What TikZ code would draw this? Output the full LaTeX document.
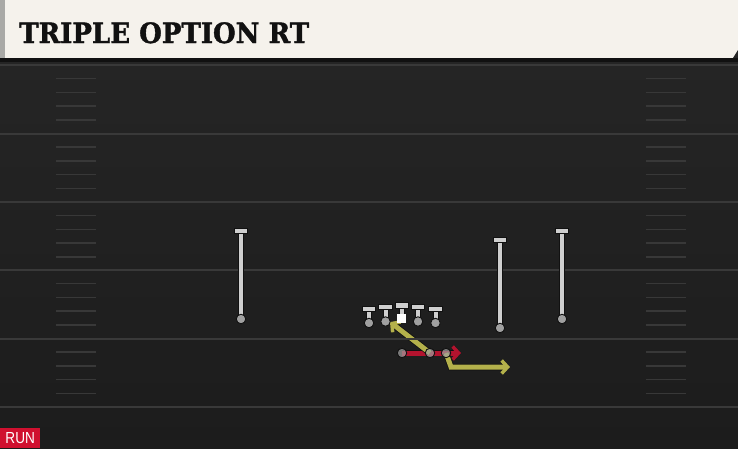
\documentclass[tikz,border=0pt]{standalone}
\usepackage{fontspec}
\setmainfont{DejaVu Serif}
\newfontfamily\titlefont[UprightFont={* Bold}, FakeBold=1.5]{DejaVu Serif}
\newfontfamily\tagfont{Liberation Sans}
\usetikzlibrary{positioning,arrows.meta,backgrounds}

\definecolor{fieldtop}{HTML}{252525}
\definecolor{fieldbot}{HTML}{1C1C1C}
\definecolor{yardclr}{HTML}{393939}
\definecolor{hashclr}{HTML}{383838}
\definecolor{headclr}{HTML}{F5F2EC}
\definecolor{edgeclr}{HTML}{A9A9A6}
\definecolor{playerclr}{HTML}{CFCFCF}
\definecolor{spotclr}{HTML}{A0A0A0}
\definecolor{outlineclr}{HTML}{111111}
\definecolor{runclr}{HTML}{B3132E}
\definecolor{optclr}{HTML}{B4B14B}
\definecolor{tagclr}{HTML}{D0102F}

\begin{document}
\begin{tikzpicture}[x=1pt, y=-1pt,
  yardline/.style={draw=yardclr, line width=2pt},
  hash/.style={draw=hashclr, line width=1.5pt},
  stem/.style={draw=playerclr, line width=4pt,
    preaction={draw=outlineclr, line width=6pt}},
  tbar/.style={rectangle, draw=outlineclr, fill=playerclr, line width=0.9pt,
    minimum width=13.5pt, minimum height=5.5pt, inner sep=0pt},
  spot/.style={circle, draw=outlineclr, fill=spotclr, line width=0.9pt,
    minimum size=9.5pt, inner sep=0pt},
  back/.style={spot, fill opacity=0.7},
  ball/.style={rectangle, fill=white, minimum size=9pt, inner sep=0pt},
  route/.style={line width=5pt,
    -{Straight Barb[length=6pt, width=13pt, line width=3.5pt]},
    preaction={draw=outlineclr, line width=6.5pt}},
]

\useasboundingbox (0,0) rectangle (738,448);

% field
\begin{scope}[on background layer]
  \shade[top color=fieldtop, bottom color=fieldbot] (0,58) rectangle (738,448);
\end{scope}

% yard lines and hashes
\foreach \y [count=\i] in {65,133.5,202,270,338.5,407}
  \draw[yardline] (0,\y) -- (738,\y);
\foreach \y in {65,133.5,202,270,338.5}
  \foreach \k in {1,...,4}
  {
    \draw[hash] (56,\y+\k*13.7) -- (96,\y+\k*13.7);
    \draw[hash] (646,\y+\k*13.7) -- (686,\y+\k*13.7);
  }

% header
\fill[headclr] (0,0) rectangle (738,58);
\fill[edgeclr] (0,0) rectangle (5,58);
\fill[outlineclr] (0,58) rectangle (738,62);
\fill[fieldtop] (733,58) -- (738,50) -- (738,58) -- cycle;
\node[anchor=base west, text=outlineclr, inner sep=0pt,
  font=\titlefont\fontsize{28}{28}\selectfont] (title) at (19,43)
  {\scalebox{0.93}[1]{TRIPLE OPTION RT}};

% receivers
\foreach \n/\x/\t/\b in {wrl/241/231/319, slot/500/240/328, wrr/562/231/319}
{
  \coordinate (\n-t) at (\x,\t);
  \coordinate (\n-b) at (\x,\b);
  \draw[stem] (\n-t) -- (\n-b);
  \node[tbar] (\n-bar) at (\n-t) {};
  \node[spot] (\n) at (\n-b) {};
}

% line
\foreach \n/\x/\t/\b in {lt/369/309/323, lg/385.5/307/321.5, c/401.7/305.5/318,
                         rg/418/307/321.5, rt/435.5/309/323}
{
  \coordinate (\n-t) at (\x,\t);
  \coordinate (\n-b) at (\x,\b);
  \draw[stem] (\n-t) -- (\n-b);
  \node[tbar] (\n-bar) at (\n-t) {};
}
\foreach \n in {lt,lg,rg,rt}
  \node[spot] (\n) at (\n-b) {};
\node[ball] (c) at (c-b) {};

% backs
\node[back] (qb) at (402,353) {};
\node[back] (fb) at (430,353) {};
\node[back] (hb) at (446,353) {};
\coordinate (qb-end) at (461,353);
\coordinate (fb-end) at (390,322);
\coordinate (hb-turn) at (451,367);
\coordinate (hb-end) at (510,367);

% routes
\begin{scope}[on background layer]
  \draw[route, draw=runclr] (qb.center) -- (qb-end);
  \draw[route, draw=optclr] (fb.center) -- (fb-end);
  \draw[route, draw=optclr] (hb.center) -- (hb-turn) -- (hb-end);
\end{scope}

% tag
\node[anchor=south west, fill=tagclr, text=white, inner sep=0pt,
  minimum width=40pt, minimum height=20pt,
  font=\tagfont\fontsize{16}{16}\selectfont] (tag) at (0,448) {\scalebox{0.85}[1]{RUN}};

\end{tikzpicture}
\end{document}
